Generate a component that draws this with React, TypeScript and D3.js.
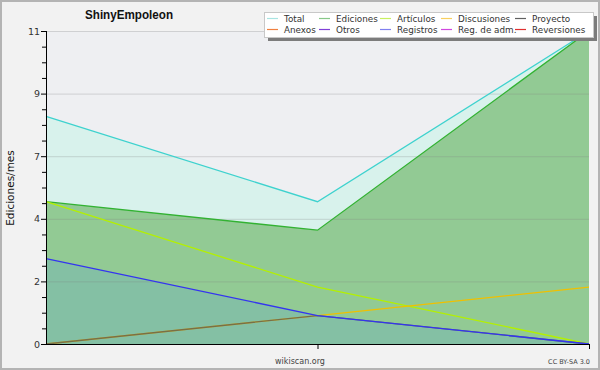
import { useEffect, useRef } from "react"
import * as d3 from "d3"

// three monthly periods, no labels on the x axis
const periods = [0, 1, 2]

const total = [8, 5, 11]
const ediciones = [5, 4, 11]
const articulos = [5, 2, 0]
const discusiones = [0, 1, 2]
const proyecto = [0, 1, 0]
const registros = [3, 1, 0]

const yTickValues = [0, 2.2, 4.4, 6.6, 8.8, 11]
const yTickLabels = ["0", "2", "4", "7", "9", "11"]

const legendRow1 = [
  { label: "Total", color: "#a8e4e2" },
  { label: "Ediciones", color: "#88c888" },
  { label: "Artículos", color: "#c8f060" },
  { label: "Discusiones", color: "#f8d060" },
  { label: "Proyecto", color: "#606060" },
]
const legendRow2 = [
  { label: "Anexos", color: "#f08040" },
  { label: "Otros", color: "#8040d8" },
  { label: "Registros", color: "#8080f0" },
  { label: "Reg. de adm.", color: "#d048e0" },
  { label: "Reversiones", color: "#e03030" },
]
const legendColX = [267, 319, 380, 441, 515]

export default function App() {
  const svgRef = useRef<SVGSVGElement>(null)

  useEffect(() => {
    if (!svgRef.current) return
    const svg = d3.select(svgRef.current)
    svg.selectAll("*").remove()

    const W = 600
    const H = 370
    const left = 46
    const right = 589
    const top = 31
    const bottom = 344
    const font = "DejaVu Sans, sans-serif"

    // background + border
    svg.append("rect").attr("width", W).attr("height", H).attr("fill", "#f2f2f2")
    svg
      .append("rect")
      .attr("x", 1)
      .attr("y", 1)
      .attr("width", W - 2)
      .attr("height", H - 2)
      .attr("fill", "none")
      .attr("stroke", "#b4b4b4")
      .attr("stroke-width", 2)

    svg
      .append("rect")
      .attr("x", left)
      .attr("y", top)
      .attr("width", right - left)
      .attr("height", bottom - top)
      .attr("fill", "#eeeff2")

    const x = d3.scaleLinear().domain([0, periods.length - 1]).range([left, right])
    const y = d3.scaleLinear().domain([0, 11]).range([bottom, top])

    const area = (vals: number[]) =>
      d3
        .area<number>()
        .x((_, i) => x(periods[i]))
        .y0(y(0))
        .y1((d) => y(d))(vals)
    const line = (vals: number[]) =>
      d3
        .line<number>()
        .x((_, i) => x(periods[i]))
        .y((d) => y(d))(vals)

    // filled areas
    svg.append("path").attr("d", area(total)).attr("fill", "#d8f2ec")
    svg.append("path").attr("d", area(ediciones)).attr("fill", "#92ca94")
    svg.append("path").attr("d", area(registros)).attr("fill", "#84c0a4")

    // grid
    svg
      .selectAll(".grid")
      .data(yTickValues.slice(1))
      .enter()
      .append("line")
      .attr("x1", left)
      .attr("x2", right)
      .attr("y1", (d) => y(d) + 0.5)
      .attr("y2", (d) => y(d) + 0.5)
      .attr("stroke", "#808080")
      .attr("stroke-opacity", 0.28)

    // lines
    const series = [
      { vals: total, color: "#3ed2ce", op: 1 },
      { vals: ediciones, color: "#32b232", op: 1 },
      { vals: articulos, color: "#b4f000", op: 1 },
      { vals: discusiones, color: "#f0c000", op: 1 },
      { vals: proyecto, color: "#5a5a5a", op: 0.8 },
      { vals: registros, color: "#3434f0", op: 1 },
    ]
    series.forEach((s) => {
      svg
        .append("path")
        .attr("d", line(s.vals))
        .attr("fill", "none")
        .attr("stroke", s.color)
        .attr("stroke-opacity", s.op)
        .attr("stroke-width", 1.3)
    })

    // axes
    svg
      .append("line")
      .attr("x1", left + 0.5)
      .attr("x2", left + 0.5)
      .attr("y1", top)
      .attr("y2", bottom + 1)
      .attr("stroke", "#000")
    svg
      .append("line")
      .attr("x1", left)
      .attr("x2", right + 1)
      .attr("y1", bottom + 0.5)
      .attr("y2", bottom + 0.5)
      .attr("stroke", "#000")

    const minor = d3.range(0, 21).map((i) => i * 0.55)
    svg
      .selectAll(".ytick")
      .data(minor)
      .enter()
      .append("line")
      .attr("x1", (_, i) => (i % 4 === 0 ? left - 5 : left - 4))
      .attr("x2", left)
      .attr("y1", (d) => y(d) + 0.5)
      .attr("y2", (d) => y(d) + 0.5)
      .attr("stroke", "#000")

    svg
      .selectAll(".ylab")
      .data(yTickValues)
      .enter()
      .append("text")
      .attr("x", left - 6)
      .attr("y", (d) => y(d) + 3.5)
      .attr("text-anchor", "end")
      .style("font-family", font)
      .style("font-size", "9.5px")
      .style("fill", "#333")
      .text((_, i) => yTickLabels[i])

    svg
      .selectAll(".xtick")
      .data(periods.slice(1))
      .enter()
      .append("line")
      .attr("x1", (d) => x(d) + 0.5)
      .attr("x2", (d) => x(d) + 0.5)
      .attr("y1", bottom)
      .attr("y2", bottom + 5)
      .attr("stroke", "#000")

    // texts
    svg
      .append("text")
      .attr("x", 85)
      .attr("y", 19)
      .attr("textLength", 88)
      .attr("lengthAdjust", "spacingAndGlyphs")
      .style("font-family", "Liberation Sans, sans-serif")
      .style("font-weight", "bold")
      .style("font-size", "13.5px")
      .style("fill", "#111")
      .text("ShinyEmpoleon")

    svg
      .append("text")
      .attr("transform", `translate(14,188) rotate(-90)`)
      .attr("text-anchor", "middle")
      .style("font-family", font)
      .style("font-size", "10.5px")
      .style("fill", "#111")
      .text("Ediciones/mes")

    svg
      .append("text")
      .attr("x", 300)
      .attr("y", 364)
      .attr("text-anchor", "middle")
      .style("font-family", font)
      .style("font-size", "8px")
      .style("fill", "#444")
      .text("wikiscan.org")

    svg
      .append("text")
      .attr("x", 590)
      .attr("y", 364)
      .attr("text-anchor", "end")
      .style("font-family", font)
      .style("font-size", "6.5px")
      .style("fill", "#444")
      .text("CC BY-SA 3.0")

    // legend
    svg.append("rect").attr("x", 268).attr("y", 16).attr("width", 329).attr("height", 25).attr("fill", "#7c7c7c")
    svg
      .append("rect")
      .attr("x", 264.5)
      .attr("y", 12.5)
      .attr("width", 329)
      .attr("height", 25)
      .attr("fill", "#fff")
      .attr("stroke", "#c8c8c8")

    const rows = [legendRow1, legendRow2]
    rows.forEach((row, r) => {
      const cy = r === 0 ? 18.5 : 29.5
      row.forEach((item, c) => {
        const lx = legendColX[c]
        svg
          .append("line")
          .attr("x1", lx)
          .attr("x2", lx + 11)
          .attr("y1", cy)
          .attr("y2", cy)
          .attr("stroke", item.color)
          .attr("stroke-width", 1.2)
        svg
          .append("text")
          .attr("x", lx + 17)
          .attr("y", cy + 3.5)
          .style("font-family", font)
          .style("font-size", "8.8px")
          .style("fill", "#333")
          .text(item.label)
      })
    })
  }, [])

  return (
    <div style={{ position: "absolute", left: 0, top: 0 }}>
      <svg ref={svgRef} width={600} height={370} style={{ display: "block" }}></svg>
    </div>
  )
}
